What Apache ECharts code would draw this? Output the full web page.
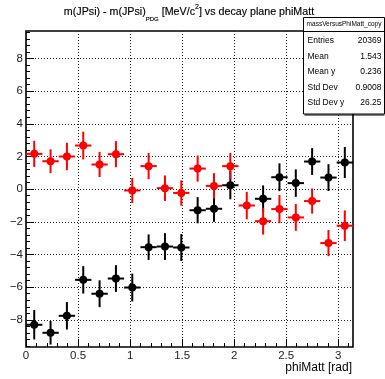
<!DOCTYPE html>
<html>
<head>
<meta charset="utf-8">
<script src="https://cdn.jsdelivr.net/npm/echarts@6/dist/echarts.min.js"></script>
<style>
  html, body { margin: 0; padding: 0; background: #fff; }
  #chart { width: 385px; height: 379px; }
</style>
</head>
<body>
<div id="chart"></div>
<script>
// phiMatt bin centres (20 bins over 0..pi) and half bin width
const binCenters = [0.079, 0.236, 0.393, 0.550, 0.707, 0.864, 1.021, 1.178, 1.335, 1.492,
                    1.649, 1.806, 1.963, 2.121, 2.278, 2.435, 2.592, 2.749, 2.906, 3.063];
const binHalfWidth = 0.0785;

// red profile: mean mass difference and its error per bin
const redValues = [2.16, 1.71, 2.00, 2.67, 1.51, 2.14, -0.08, 1.41, 0.06, -0.23,
                   1.26, 0.20, 1.41, -1.00, -1.96, -1.22, -1.73, -0.73, -3.30, -2.24];
const redErrors = [0.80, 0.73, 0.84, 0.85, 0.77, 0.80, 0.77, 0.80, 0.78, 0.77,
                   0.80, 0.78, 0.80, 0.84, 0.82, 0.86, 0.82, 0.77, 0.80, 0.94];

// black profile (bin 14 is empty)
const blackValues = [-8.30, -8.79, -7.75, -5.55, -6.40, -5.47, -6.02, -3.55, -3.51, -3.57,
                     -1.29, -1.20, 0.24, null, -0.59, 0.73, 0.37, 1.69, 0.71, 1.63];
const blackErrors = [0.90, 0.72, 0.84, 0.84, 0.82, 0.82, 0.85, 0.78, 0.82, 0.82,
                     0.80, 0.80, 0.86, null, 0.82, 0.85, 0.84, 0.82, 0.82, 0.95];

// axis ranges and labelled ticks
const xRange = [0, 3.1416];
const yRange = [-9.66, 9.68];
const xTickLabels = [0, 0.5, 1, 1.5, 2, 2.5, 3];
const yTickLabels = [-8, -6, -4, -2, 0, 2, 4, 6, 8];

// statistics box
const histName = 'massVersusPhiMatt_copy';
const statNames = ['Entries', 'Mean', 'Mean y', 'Std Dev', 'Std Dev y'];
const statValues = ['20369', '1.543', '0.236', '0.9008', '26.25'];

const FONT = '"Liberation Sans", Arial, Helvetica, sans-serif';

function minorTicks(lo, hi, step, majorStep) {
  const out = [];
  for (let k = Math.ceil(lo / step - 1e-9); k * step <= hi + 1e-9; k++) {
    const v = Math.round(k * step * 1000) / 1000;
    const r = v / majorStep;
    if (Math.abs(r - Math.round(r)) > 1e-6) out.push(v);
  }
  return out;
}

function fmt(v) { return String(v).replace('-', '\u2212'); }

function errorBars(values, errors, color, z) {
  const data = [];
  binCenters.forEach((x, i) => { if (values[i] != null) data.push([x, values[i], errors[i]]); });
  return {
    type: 'custom', xAxisIndex: 0, yAxisIndex: 0, z: z, silent: true, animation: false,
    data: data, encode: { x: 0, y: 1 },
    renderItem(params, api) {
      const x = api.value(0), y = api.value(1), e = api.value(2);
      const l = api.coord([x - binHalfWidth, y]), r = api.coord([x + binHalfWidth, y]);
      const t = api.coord([x, y + e]), b = api.coord([x, y - e]);
      const style = { stroke: color, lineWidth: 2 };
      return { type: 'group', children: [
        { type: 'line', shape: { x1: l[0], y1: l[1], x2: r[0], y2: r[1] }, style: style },
        { type: 'line', shape: { x1: t[0], y1: t[1], x2: b[0], y2: b[1] }, style: style }
      ] };
    }
  };
}

function markers(values, color, z) {
  const data = [];
  binCenters.forEach((x, i) => { if (values[i] != null) data.push([x, values[i]]); });
  return { type: 'scatter', xAxisIndex: 0, yAxisIndex: 0, z: z, silent: true, animation: false,
           symbol: 'circle', symbolSize: 8, itemStyle: { color: color, opacity: 1 }, data: data };
}

// title built from pieces so the subscript / superscript sit right
const measureCtx = document.createElement('canvas').getContext('2d');
function textWidth(t, size) { measureCtx.font = size + 'px ' + FONT; return measureCtx.measureText(t).width; }
const titleParts = [
  { t: 'm(JPsi) - m(JPsi)', size: 10.7, y: 12 },
  { t: 'PDG', size: 6, y: 19.5 },
  { t: ' [MeV/c', size: 10.7, y: 12 },
  { t: '2', size: 7, y: 7 },
  { t: '] vs decay plane phiMatt', size: 10.7, y: 12 }
];
const titleCenter = 189;
let titleW = 0; titleParts.forEach(p => { p.w = textWidth(p.t, p.size); titleW += p.w; });
let cx = titleCenter - titleW / 2;
const titleGraphics = titleParts.map(p => {
  const g = { type: 'text', x: cx, y: p.y, style: { text: p.t, font: p.size + 'px ' + FONT,
              fill: '#000', stroke: '#000', lineWidth: 0.15, textAlign: 'left', textVerticalAlign: 'middle' } };
  cx += p.w; return g;
});

// stats box
const box = { x: 303.5, y: 17.5, w: 81, h: 96.5, head: 31.5 };
const statGraphics = [
  { type: 'rect', shape: { x: box.x, y: box.y, width: box.w, height: box.h },
    style: { fill: '#fff', stroke: '#000', lineWidth: 1 }, z: 10 },
  { type: 'line', shape: { x1: box.x, y1: box.head, x2: box.x + box.w, y2: box.head },
    style: { stroke: '#000', lineWidth: 1 }, z: 11 },
  { type: 'line', shape: { x1: box.x + 1, y1: box.y + box.h + 1, x2: box.x + box.w, y2: box.y + box.h + 1 },
    style: { stroke: '#000', lineWidth: 1.2 }, z: 11 },
  { type: 'text', x: box.x + box.w / 2, y: 24.5, z: 11,
    style: { text: histName, font: '6.5px ' + FONT, fill: '#000', textAlign: 'center', textVerticalAlign: 'middle' } }
];
statNames.forEach((n, i) => {
  const yy = 41 + i * 15.5;
  statGraphics.push({ type: 'text', x: 307.5, y: yy, z: 11,
    style: { text: n, font: '8.5px ' + FONT, fill: '#000', textAlign: 'left', textVerticalAlign: 'middle' } });
  statGraphics.push({ type: 'text', x: 381.5, y: yy, z: 11,
    style: { text: statValues[i], font: '8.5px ' + FONT, fill: '#000', textAlign: 'right', textVerticalAlign: 'middle' } });
});

const axisTitle = { type: 'text', x: 352, y: 368, style: { text: 'phiMatt [rad]', font: '12px ' + FONT,
                    fill: '#000', textAlign: 'right', textVerticalAlign: 'middle' } };

const gridLine = { show: true, lineStyle: { color: '#222', width: 1, type: [1, 2] } };
const noLine = { show: false, onZero: false };

const chart = echarts.init(document.getElementById('chart'), null, { renderer: 'canvas' });
chart.setOption({
  animation: false,
  backgroundColor: '#fff',
  grid: { left: 26, right: 32, top: 31, bottom: 32, show: true, borderColor: '#000', borderWidth: 1.6,
          containLabel: false, outerBoundsMode: 'none' },
  xAxis: [
    { type: 'value', min: xRange[0], max: xRange[1], position: 'bottom',
      axisLine: noLine, splitLine: { show: false }, axisLabel: { show: false },
      axisTick: { show: true, inside: true, length: 4, customValues: minorTicks(xRange[0], xRange[1], 0.1, 0.5),
                  lineStyle: { color: '#000', width: 1 } } },
    { type: 'value', min: xRange[0], max: xRange[1], position: 'bottom',
      axisLine: noLine, splitLine: gridLine,
      axisTick: { show: true, inside: true, length: 8, customValues: xTickLabels, lineStyle: { color: '#000', width: 1 } },
      axisLabel: { show: true, customValues: xTickLabels, margin: 3, fontSize: 11.5, fontFamily: FONT, color: '#222',
                   formatter: fmt } }
  ],
  yAxis: [
    { type: 'value', min: yRange[0], max: yRange[1], position: 'left',
      axisLine: noLine, splitLine: { show: false }, axisLabel: { show: false },
      axisTick: { show: true, inside: true, length: 4, customValues: minorTicks(yRange[0], yRange[1], 0.4, 2),
                  lineStyle: { color: '#000', width: 1 } } },
    { type: 'value', min: yRange[0], max: yRange[1], position: 'left',
      axisLine: noLine, splitLine: gridLine,
      axisTick: { show: true, inside: true, length: 8, customValues: yTickLabels, lineStyle: { color: '#000', width: 1 } },
      axisLabel: { show: true, customValues: yTickLabels, margin: 3, fontSize: 11.5, fontFamily: FONT, color: '#222',
                   formatter: fmt } }
  ],
  series: [
    errorBars(blackValues, blackErrors, '#000', 3),
    markers(blackValues, '#000', 4),
    errorBars(redValues, redErrors, '#ff0000', 5),
    markers(redValues, '#ff0000', 6)
  ],
  graphic: titleGraphics.concat([axisTitle]).concat(statGraphics)
});
</script>
</body>
</html>
